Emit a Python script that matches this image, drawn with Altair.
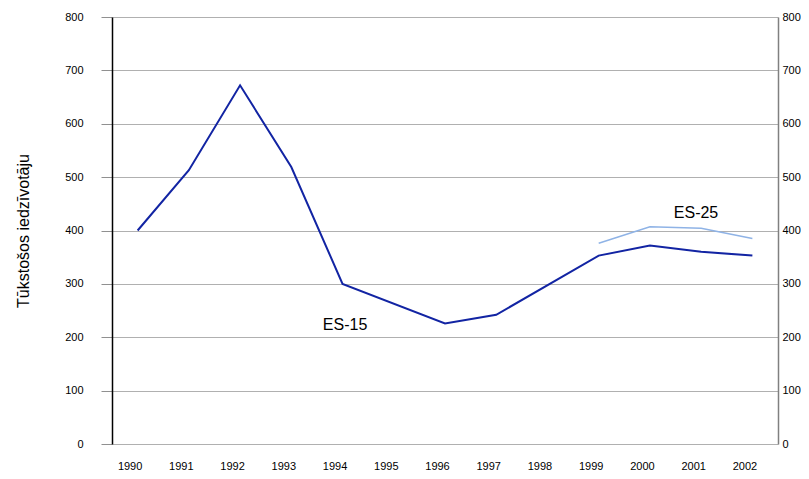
import altair as alt
import pandas as pd

# ---- data ----
years_axis = list(range(1990, 2003))
years_es15 = [1990, 1991, 1992, 1993, 1994, 1996, 1997, 1999, 2000, 2001, 2002]
values_es15 = [400, 513, 672, 519, 300, 226, 242, 353, 372, 360, 353]
years_es25 = [1999, 2000, 2001, 2002]
values_es25 = [376, 407, 404, 385]
y_ticks = [0, 100, 200, 300, 400, 500, 600, 700, 800]
series_names = ["ES-15", "ES-25"]
series_colors = ["#1224a3", "#8fb3e6"]
label_text = ["ES-15", "ES-25"]
label_year = [1994.05, 2000.9]
label_value = [223, 433]

df = pd.DataFrame(
    {"year": years_es15 + years_es25,
     "value": values_es15 + values_es25,
     "series": ["ES-15"] * len(years_es15) + ["ES-25"] * len(years_es25)}
)
labels = pd.DataFrame({"year": label_year, "value": label_value, "text": label_text})

FONT = "Liberation Sans"

x_scale = alt.Scale(domain=[1989.5, 2002.5], nice=False, zero=False)
x_enc = alt.X(
    "year:Q",
    scale=x_scale,
    axis=alt.Axis(values=years_axis, format="d", ticks=False, domain=False, grid=False,
                  labelPadding=16, labelOffset=-8, labelFontSize=11, labelFont=FONT,
                  labelColor="black"),
    title=None,
)
y_scale = alt.Scale(domain=[0, 800], nice=False)
left_axis = alt.Axis(values=y_ticks, grid=True, gridColor="#b0b0b0", gridWidth=1,
                     ticks=True, tickColor="#909090", tickSize=11, tickWidth=1,
                     domainColor="black", domainWidth=1.5,
                     labelPadding=18, labelFontSize=11, labelFont=FONT, labelColor="black",
                     title="Tūkstošos iedzīvotāju", titleFontSize=16, titleFont=FONT,
                     titleFontWeight="normal", titleColor="black", titlePadding=33)

color_enc = alt.Color("series:N", scale=alt.Scale(domain=series_names, range=series_colors),
                      legend=None)

es15 = alt.Chart(df).transform_filter(alt.datum.series == "ES-15").mark_line(strokeWidth=2).encode(
    x=x_enc,
    y=alt.Y("value:Q", scale=y_scale, axis=left_axis),
    color=color_enc,
)

text = alt.Chart(labels).mark_text(fontSize=16, font=FONT, color="black").encode(
    x=x_enc,
    y=alt.Y("value:Q", scale=y_scale, axis=left_axis),
    text="text:N",
)

es25 = alt.Chart(df).transform_filter(alt.datum.series == "ES-25").mark_line(strokeWidth=1.5).encode(
    x=x_enc,
    y=alt.Y("value:Q", scale=y_scale,
            axis=alt.Axis(orient="right", values=y_ticks, grid=False, ticks=False,
                          domainColor="#808080", domainWidth=1.5, labelPadding=4,
                          labelFontSize=11, labelFont=FONT, labelColor="black", title=None)),
    color=color_enc,
)

chart = (
    alt.layer(alt.layer(es15, text), es25)
    .resolve_axis(y="independent")
    .properties(width=666, height=427,
                autosize=alt.AutoSizeParams(type="none"),
                padding={"left": 104, "top": 9, "right": 23, "bottom": 27})
    .configure_view(stroke=None)
)

chart.save("out.html", embed_options={"renderer": "svg", "actions": False})
